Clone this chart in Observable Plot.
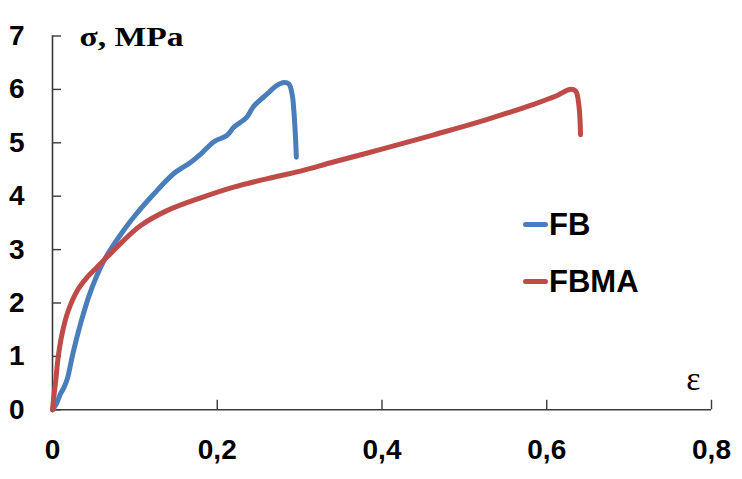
<!DOCTYPE html>
<html>
<head>
<meta charset="utf-8">
<script src="https://cdn.jsdelivr.net/npm/d3@7"></script>
<script src="https://cdn.jsdelivr.net/npm/@observablehq/plot@0.6"></script>
<style>
  html, body { margin: 0; padding: 0; background: #fff; }
  #wrap { position: relative; width: 742px; height: 479px; }
  .leg { position: absolute; display: flex; align-items: center; font-family: "Liberation Sans", Arial, sans-serif; font-weight: bold; font-size: 31px; color: #000; line-height: 1; }
  .leg span.sw { display: inline-block; width: 25px; height: 5px; border-radius: 3px; margin-right: 1px; }
</style>
</head>
<body>
<div id="wrap"></div>
<script>
// Strain (ε) and stress (σ, MPa)
const fbStrain = [0, 0.005, 0.0097, 0.014, 0.018, 0.021, 0.024, 0.029, 0.034, 0.044, 0.054, 0.062, 0.0704, 0.085, 0.0987, 0.123, 0.147, 0.1675, 0.18, 0.196, 0.212, 0.220, 0.236, 0.244, 0.261, 0.272, 0.281, 0.287, 0.291, 0.293, 0.295, 0.296];
const fbStress = [0, 0.12, 0.30, 0.42, 0.58, 0.78, 1.0, 1.32, 1.61, 2.12, 2.52, 2.78, 3.0, 3.33, 3.61, 4.04, 4.42, 4.63, 4.79, 5.02, 5.14, 5.29, 5.48, 5.68, 5.92, 6.07, 6.13, 6.10, 5.9, 5.6, 5.1, 4.73];

const fbmaStrain = [0, 0.002, 0.004, 0.007, 0.012, 0.019, 0.03, 0.042, 0.054, 0.07, 0.085, 0.107, 0.139, 0.18, 0.22, 0.261, 0.301, 0.341, 0.402, 0.463, 0.524, 0.584, 0.612, 0.628, 0.635, 0.639, 0.641];
const fbmaStress = [0, 0.3, 0.55, 1.0, 1.45, 1.85, 2.23, 2.48, 2.67, 2.92, 3.15, 3.45, 3.73, 3.97, 4.17, 4.33, 4.47, 4.64, 4.89, 5.15, 5.42, 5.72, 5.88, 6.0, 5.97, 5.7, 5.15];

const seriesNames = ["FB", "FBMA"];
const seriesColors = ["#4a7ebb", "#be4b48"];

const xTicks = [0, 0.2, 0.4, 0.6, 0.8];
const yTicks = [0, 1, 2, 3, 4, 5, 6, 7];
const xTickLabels = ["0", "0,2", "0,4", "0,6", "0,8"];
const yTickLabels = ["0", "1", "2", "3", "4", "5", "6", "7"];
const yTitle = "σ, MPa";
const xTitle = "ε";

const rows = [
  ...fbStrain.map((e, i) => ({series: seriesNames[0], e, s: fbStress[i]})),
  ...fbmaStrain.map((e, i) => ({series: seriesNames[1], e, s: fbmaStress[i]}))
];

const axisColor = "#3a3a3a";
const tickFont = "Liberation Sans, Arial, sans-serif";

const chart = Plot.plot({
  width: 742,
  height: 479,
  marginLeft: 52,
  marginRight: 31,
  marginTop: 35.5,
  marginBottom: 69.7,
  style: {background: "#fff", overflow: "visible"},
  x: {domain: [0, 0.8], axis: null},
  y: {domain: [0, 7], axis: null},
  color: {domain: seriesNames, range: seriesColors},
  marks: [
    Plot.ruleX([0], {y1: 0, y2: 7, stroke: axisColor, strokeWidth: 1.6}),
    Plot.ruleY([0], {x1: 0, x2: 0.8, stroke: axisColor, strokeWidth: 1.6}),
    Plot.ruleY(yTicks, {y: d => d, x1: 0, x2: 0.0109, stroke: axisColor, strokeWidth: 1.4}),
    Plot.ruleX(xTicks.slice(1), {x: d => d, y1: 0, y2: 0.178, stroke: axisColor, strokeWidth: 1.4}),
    Plot.axisY(yTicks, {tickSize: 0, tickPadding: 28, tickFormat: (d, i) => yTickLabels[i], fontSize: 28, fontWeight: "bold", fontFamily: tickFont, fill: "#000", label: null}),
    Plot.axisX(xTicks, {tickSize: 0, tickPadding: 29, tickFormat: (d, i) => xTickLabels[i], fontSize: 28, fontWeight: "bold", fontFamily: tickFont, fill: "#000", label: null}),
    Plot.line(rows, {x: "e", y: "s", z: "series", stroke: "series", strokeWidth: 5, curve: "catmull-rom", strokeLinecap: "round", strokeLinejoin: "round"}),
    Plot.text([yTitle], {frameAnchor: "top-left", dx: 27, dy: 1, text: d => d, textAnchor: "start", lineAnchor: "middle", fontSize: 28, fontWeight: "bold", fontFamily: "Liberation Serif, Times New Roman, serif", fill: "#000", className: "ytitle"}),
    Plot.text([xTitle], {frameAnchor: "bottom-right", dx: -18, dy: -31, text: d => d, textAnchor: "middle", lineAnchor: "middle", fontSize: 34, fontFamily: "Liberation Serif, Times New Roman, serif", fill: "#000"})
  ]
});

const wrap = document.getElementById("wrap");
wrap.appendChild(chart);

// stretch the y title horizontally to match the reference width
d3.select(chart).selectAll(".ytitle text").attr("textLength", 104).attr("lengthAdjust", "spacingAndGlyphs");

// legend
const legendTops = [224, 281];
seriesNames.forEach((name, i) => {
  const d = document.createElement("div");
  d.className = "leg";
  d.style.left = "523px";
  d.style.top = (legendTops[i] - 16) + "px";
  d.style.height = "32px";
  d.innerHTML = `<span class="sw" style="background:${seriesColors[i]}"></span><span>${name}</span>`;
  wrap.appendChild(d);
});
</script>
</body>
</html>
